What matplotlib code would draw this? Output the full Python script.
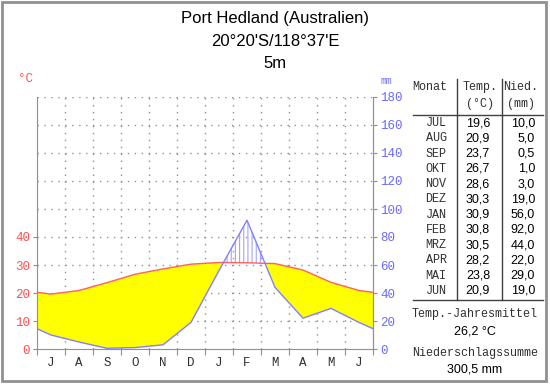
import numpy as np
import matplotlib
matplotlib.use("Agg")
import matplotlib.pyplot as plt
from matplotlib.lines import Line2D
from matplotlib.patches import Rectangle

# Klimadaten Port Hedland (Juli bis Juni)
monate = ["JUL", "AUG", "SEP", "OKT", "NOV", "DEZ", "JAN", "FEB", "MRZ", "APR", "MAI", "JUN"]
achse_monate = ["J", "A", "S", "O", "N", "D", "J", "F", "M", "A", "M", "J"]
temp = [19.6, 20.9, 23.7, 26.7, 28.6, 30.3, 30.9, 30.8, 30.5, 28.2, 23.8, 20.9]
nied = [10.0, 5.0, 0.5, 1.0, 3.0, 19.0, 56.0, 92.0, 44.0, 22.0, 29.0, 19.0]
temp_ticks = [0, 10, 20, 30, 40]
nied_ticks = [0, 20, 40, 60, 80, 100, 120, 140, 160, 180]

W, H = 550, 384
def fx(px):
    return px / W
def fy(px):
    return 1 - px / H

mono = "Liberation Mono"
sans = "Liberation Sans"
rot = "#ff5050"
blau = "#6a6aff"
grau = "#909090"
text_grau = "#303030"

fig = plt.figure(figsize=(5.5, 3.84), dpi=100)
fig.patch.set_facecolor("white")

ax = fig.add_axes([fx(37), fy(349), fx(373) - fx(37), fy(97) - fy(349)])

# Werte an Monatsmitte, Ränder aus Mittel Jun/Jul
t = np.array(temp)
p = np.array(nied) / 2.0
x = np.concatenate([[0], np.arange(12) + 0.5, [12]])
t_ext = np.concatenate([[(t[0] + t[-1]) / 2], t, [(t[0] + t[-1]) / 2]])
p_ext = np.concatenate([[(p[0] + p[-1]) / 2], p, [(p[0] + p[-1]) / 2]])

# dichtere Stützstellen für saubere Schnittpunkte
xs = np.linspace(0, 12, 1201)
ts = np.interp(xs, x, t_ext)
ps = np.interp(xs, x, p_ext)

ax.fill_between(xs, ts, ps, where=ts >= ps, facecolor="#ffff00", edgecolor="none", zorder=2)
plt.rcParams["hatch.linewidth"] = 0.8
ax.fill_between(xs, ts, ps, where=ps >= ts, facecolor="none", edgecolor="#a4a4ff",
                hatch="||||", linewidth=0, zorder=2)

ax.plot(x, t_ext, color="#ff6060", lw=1, zorder=3)
ax.plot(x, p_ext, color="#8080ff", lw=1, zorder=3)

# Gitter
for gx in range(1, 12):
    ax.axvline(gx, color=grau, lw=1, ls=(0, (1, 4)), zorder=1)
for gy in range(10, 91, 10):
    ax.axhline(gy, color=grau, lw=1, ls=(0, (1, 4)), zorder=1)

ax.set_xlim(0, 12)
ax.set_ylim(0, 90)
ax.set_xticks(range(13))
ax.set_xticklabels([])
ax.set_xticks(np.arange(12) + 0.5, minor=True)
ax.set_xticklabels(achse_monate, minor=True, fontfamily=mono, fontsize=9, color=text_grau)
ax.tick_params(axis="x", which="major", length=4, color=grau, direction="out")
ax.tick_params(axis="x", which="minor", length=0, pad=6)
ax.set_yticks(temp_ticks)
ax.set_yticklabels([str(v) for v in temp_ticks], fontfamily=mono, fontsize=9, color=rot)
ax.tick_params(axis="y", length=3, color=grau, pad=2)

for s in ["left", "right", "bottom"]:
    ax.spines[s].set_color(grau)
ax.spines["top"].set_visible(False)

ax2 = ax.twinx()
ax2.set_ylim(0, 180)
ax2.set_yticks(nied_ticks)
ax2.set_yticklabels([str(v) for v in nied_ticks], fontfamily=mono, fontsize=9, color=blau)
ax2.tick_params(axis="y", length=3, color=grau, pad=2)
for s in ["left", "top", "bottom"]:
    ax2.spines[s].set_visible(False)
ax2.spines["right"].set_color(grau)

fig.text(fx(25), fy(79), "°C", color=rot, fontfamily=mono, fontsize=9, ha="center", va="center")
fig.text(fx(386), fy(81), "mm", color=blau, fontfamily=mono, fontsize=7, ha="center", va="center")

# Titel
fig.text(fx(275), fy(18), "Port Hedland (Australien)", fontfamily=sans, fontsize=12, ha="center", va="center")
fig.text(fx(275), fy(42), "20°20'S/118°37'E", fontfamily=sans, fontsize=12, ha="center", va="center")
fig.text(fx(275), fy(63), "5m", fontfamily=sans, fontsize=12, ha="center", va="center")

# Tabelle
kopf = dict(fontfamily=mono, fontsize=8.5, color=text_grau, ha="center", va="center")
fig.text(fx(430), fy(87), "Monat", **kopf)
fig.text(fx(480), fy(87), "Temp.", **kopf)
fig.text(fx(480), fy(104), "(°C)", **kopf)
fig.text(fx(521), fy(87), "Nied.", **kopf)
fig.text(fx(521), fy(104), "(mm)", **kopf)

for i, (m, tv, nv) in enumerate(zip(monate, temp, nied)):
    yy = 123 + i * 15.27
    fig.text(fx(436), fy(yy), m, fontfamily=mono, fontsize=8.5, color=text_grau, ha="center", va="center")
    fig.text(fx(490), fy(yy), f"{tv:.1f}".replace(".", ","), fontfamily=sans, fontsize=9, ha="right", va="center")
    fig.text(fx(535), fy(yy), f"{nv:.1f}".replace(".", ","), fontfamily=sans, fontsize=9, ha="right", va="center")

fig.add_artist(Line2D([fx(413), fx(543)], [fy(115), fy(115)], color="#404040", lw=1))
fig.add_artist(Line2D([fx(413), fx(543)], [fy(300), fy(300)], color="#404040", lw=1))
fig.add_artist(Line2D([fx(457), fx(457)], [fy(79), fy(300)], color="#404040", lw=1))
fig.add_artist(Line2D([fx(502), fx(502)], [fy(79), fy(300)], color="#404040", lw=1))

mittel = sum(temp) / len(temp)
summe = sum(nied)
fig.text(fx(475), fy(314), "Temp.-Jahresmittel", fontfamily=mono, fontsize=8.5, color=text_grau, ha="center", va="center")
fig.text(fx(475), fy(332), f"{mittel:.1f}".replace(".", ",") + " °C", fontfamily=sans, fontsize=9, ha="center", va="center")
fig.text(fx(475), fy(353), "Niederschlagssumme", fontfamily=mono, fontsize=8.5, color=text_grau, ha="center", va="center")
fig.text(fx(475), fy(370), f"{summe:.1f}".replace(".", ",") + " mm", fontfamily=sans, fontsize=9, ha="center", va="center")

# Rahmen
fig.add_artist(Rectangle((fx(2), fy(381)), fx(544), fy(2) - fy(381), fill=False,
                         edgecolor="#909090", lw=2, transform=fig.transFigure))

fig.savefig("out.png", dpi=100)
